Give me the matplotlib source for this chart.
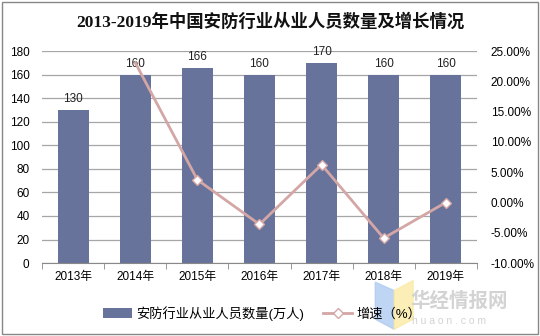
import matplotlib.pyplot as plt
from matplotlib.patches import Rectangle, Polygon
import numpy as np

# data
years = ['2013年', '2014年', '2015年', '2016年', '2017年', '2018年', '2019年']
staff = [130, 160, 166, 160, 170, 160, 160]
growth = [23.08, 3.75, -3.61, 6.25, -5.88, 0.0]   # from 2014 on

plt.rcParams['font.family'] = ['Liberation Sans', 'Noto Sans CJK SC']
bar_color = '#67739A'
line_color = '#D4A6A6'

fig = plt.figure(figsize=(5.4, 3.36), dpi=100)
ax = fig.add_axes([0.078, 0.217, 0.805, 0.631])
x = np.arange(len(years))

ax.set_axisbelow(True)
ax.grid(axis='y', color='#A6A6A6', linewidth=0.9)
bars = ax.bar(x, staff, width=0.5, color=bar_color, label='安防行业从业人员数量(万人)', zorder=2)
for xi, v in zip(x, staff):
    ax.text(xi, v + 4, str(v), ha='center', va='bottom', fontsize=8.5, color='#222222', zorder=5)

ax.set_xlim(-0.5, len(years) - 0.5)
ax.set_ylim(0, 180)
ax.set_yticks(range(0, 181, 20))
ax.set_xticks(x)
ax.set_xticklabels(years, fontsize=8.5)
ax.set_xticks(np.arange(-0.5, len(years), 1), minor=True)
ax.tick_params(axis='x', which='major', length=0, pad=6)
ax.tick_params(axis='x', which='minor', length=4, color='#888888')
ax.tick_params(axis='y', length=0, pad=9, labelsize=8.5)
for s in ['top', 'right', 'left']:
    ax.spines[s].set_visible(False)
ax.spines['bottom'].set_color('#888888')

ax2 = ax.twinx()
ax2.plot(x[1:], growth, color=line_color, linewidth=2, marker='D', markersize=5,
         markerfacecolor='white', markeredgecolor=line_color, markeredgewidth=1,
         markevery=list(range(1, len(growth))), label='增速（%）', zorder=3)
ax2.set_ylim(-10, 25)
ax2.set_yticks(range(-10, 26, 5))
ax2.set_yticklabels(['%.2f%%' % t for t in range(-10, 26, 5)])
ax2.tick_params(axis='y', length=0, pad=10, labelsize=8.5)
for s in ['top', 'right', 'left', 'bottom']:
    ax2.spines[s].set_visible(False)

# legend
h1, l1 = ax.get_legend_handles_labels()
h2, l2 = ax2.get_legend_handles_labels()
fig.legend(h1 + h2, l1 + l2, loc='center', bbox_to_anchor=(0.485, 0.068), ncol=2,
           frameon=False, fontsize=9.5, handlelength=2.2, columnspacing=1.5, handletextpad=0.3)

# title
fig.text(0.5, 0.935, '2013-2019年中国安防行业从业人员数量及增长情况', ha='center', va='center',
         fontsize=12.5, fontweight='bold', family=['Liberation Serif', 'Noto Sans CJK SC'], color='#111111')

# watermark
fig.patches.append(Polygon([[0.695, 0.16], [0.73, 0.135], [0.73, 0.02], [0.695, 0.05]],
                           transform=fig.transFigure, color='#AECBF2', alpha=0.8))
fig.patches.append(Polygon([[0.73, 0.135], [0.765, 0.165], [0.765, 0.05], [0.73, 0.02]],
                           transform=fig.transFigure, color='#FBEAA5', alpha=0.8))
fig.text(0.76, 0.105, '华经情报网', fontsize=14, fontweight='bold', color='#D3D3D3',
         family=['Noto Sans CJK SC'], ha='left', va='center')
fig.text(0.763, 0.045, 'h u a o n . c o m', fontsize=7.5, color='#D3D3D3', ha='left', va='center')

# outer frame
fig.patches.append(Rectangle((0.004, 0.006), 0.992, 0.988, transform=fig.transFigure,
                             fill=False, edgecolor='#888888', linewidth=1))

fig.savefig('out.png', dpi=100)
